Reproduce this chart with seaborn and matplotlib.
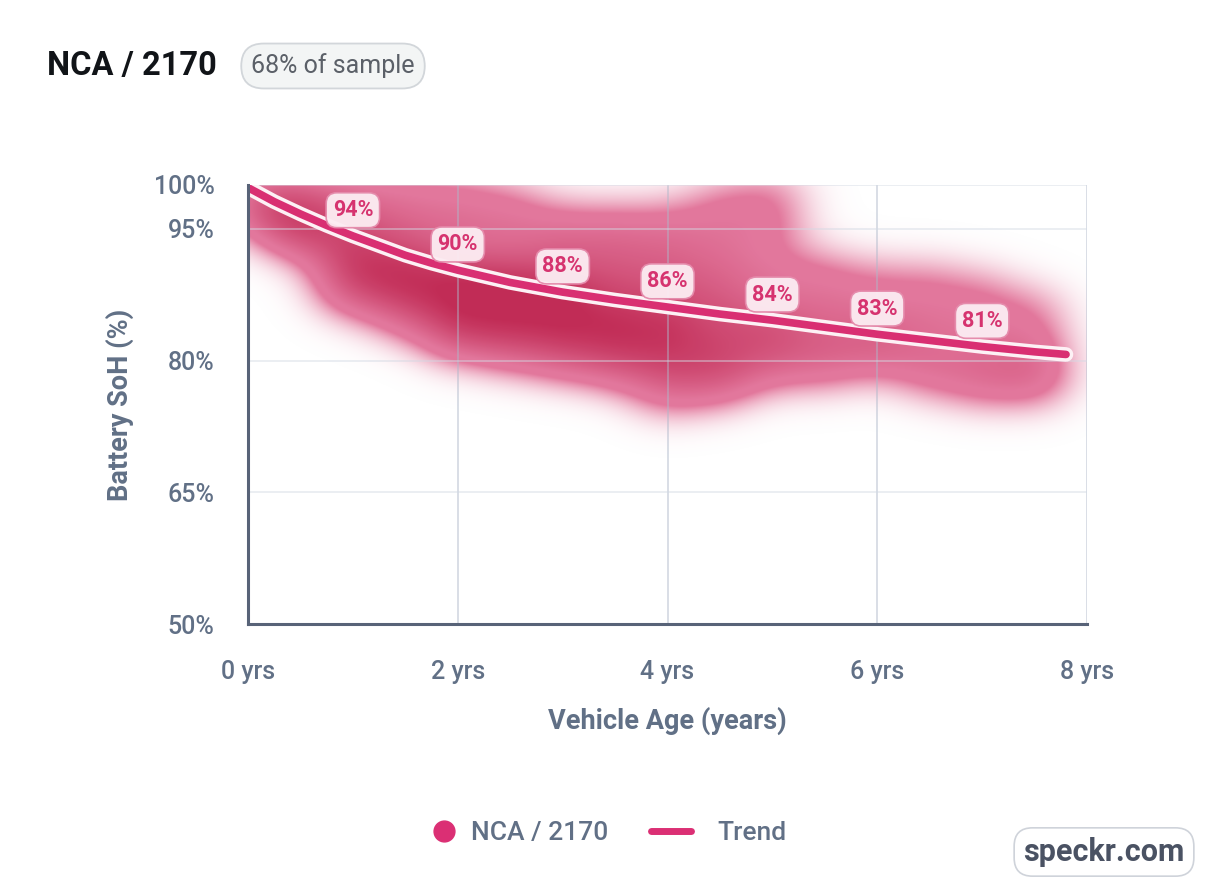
import numpy as np
import pandas as pd
import seaborn as sns
import matplotlib.pyplot as plt
import matplotlib.patheffects as pe
from matplotlib.lines import Line2D

# trend curve (age in years, SoH in %)
trend_age = [0, 0.25, 0.5, 0.75, 1, 1.25, 1.5, 1.75, 2, 2.5, 3, 3.5, 4, 4.5, 5, 5.5, 6, 6.5, 7, 7.5, 7.8]
trend_soh = [99.7, 98.1, 96.7, 95.4, 94.2, 93.1, 92.0, 91.1, 90.3, 88.9, 87.8, 86.9, 86.1,
             85.3, 84.6, 83.8, 83.0, 82.3, 81.6, 81.0, 80.7]

# yearly labels on the trend
label_age = [1, 2, 3, 4, 5, 6, 7]
label_val = [94, 90, 88, 86, 84, 83, 81]

# sample cloud (centres of the blurred density, with relative weight)
cloud_age = [0.1, 0.1,
             0.5, 0.5, 0.5,
             1.0, 1.0, 1.0, 1.0, 1.0,
             1.5, 1.5, 1.5, 1.5, 1.5,
             2.0, 2.0, 2.0, 2.0, 2.0, 2.0,
             2.5, 2.5, 2.5, 2.5, 2.5, 2.5,
             3.0, 3.0, 3.0, 3.0, 3.0, 3.0,
             3.5, 3.5, 3.5, 3.5, 3.5, 3.5,
             4.0, 4.0, 4.0, 4.0, 4.0, 4.0, 4.0,
             4.5, 4.5, 4.5, 4.5, 4.5, 4.5, 4.5,
             5.0, 5.0, 5.0, 5.0, 5.0, 5.0,
             5.5, 5.5, 5.5, 5.5,
             6.0, 6.0, 6.0, 6.0,
             6.5, 6.5, 6.5, 6.5,
             7.0, 7.0, 7.0, 7.0,
             7.5, 7.5, 7.5, 7.5]
cloud_soh = [99, 96.5,
             99, 96, 94,
             99, 95.5, 92, 89, 87,
             99, 95, 91, 88, 85,
             99, 95, 90, 87, 84, 82,
             98.5, 95, 90, 87, 84, 81,
             96, 93, 89, 86, 83, 80,
             96, 93, 89, 85, 82, 79,
             96, 93, 89, 85, 82, 79, 76,
             98, 94, 90, 86, 82, 79, 77,
             99, 95, 90, 85, 82, 79,
             90, 86, 82, 79,
             89, 85, 82, 80,
             89, 85, 81, 78,
             88, 84, 80, 77,
             86, 82, 79, 77]
cloud_w = [0.6, 0.6,
           0.6, 0.8, 0.7,
           0.55, 0.7, 1.0, 0.8, 0.4,
           0.5, 0.6, 1.0, 0.9, 0.6,
           0.45, 0.6, 1.0, 1.0, 0.8, 0.5,
           0.35, 0.55, 0.9, 1.0, 0.9, 0.6,
           0.35, 0.6, 0.9, 1.0, 0.9, 0.6,
           0.35, 0.6, 0.8, 1.0, 0.9, 0.6,
           0.35, 0.55, 0.8, 0.9, 0.9, 0.7, 0.5,
           0.45, 0.5, 0.6, 0.8, 0.8, 0.6, 0.5,
           0.45, 0.5, 0.55, 0.7, 0.7, 0.5,
           0.45, 0.55, 0.6, 0.5,
           0.4, 0.5, 0.5, 0.4,
           0.4, 0.5, 0.5, 0.45,
           0.4, 0.5, 0.5, 0.5,
           0.4, 0.5, 0.5, 0.45]

x_ticks = [0, 2, 4, 6, 8]
x_ticklabels = ["0 yrs", "2 yrs", "4 yrs", "6 yrs", "8 yrs"]
y_ticks = [50, 65, 80, 95, 100]
y_ticklabels = ["50%", "65%", "80%", "95%", "100%"]

PINK = "#d92f72"
AXIS_TXT = "#617086"

sns.set_theme(style="white")
plt.rcParams['font.family'] = ['Roboto', 'DejaVu Sans']

fig = plt.figure(figsize=(12.24, 8.96), dpi=100)
ax = fig.add_axes([248 / 1224, 1 - 624 / 896, (1087 - 248) / 1224, (624 - 185) / 896])

# blurred density cloud
gx = np.linspace(0, 8, 480)
gy = np.linspace(50, 100, 600)
GX, GY = np.meshgrid(gx, gy)
dens = np.zeros_like(GX)
for a, s, w in zip(cloud_age, cloud_soh, cloud_w):
    dens += w * np.exp(-0.5 * (((GX - a) / 0.3) ** 2 + ((GY - s) / 2.6) ** 2))

light = np.array([0.88, 0.42, 0.58])
dark = np.array([0.74, 0.10, 0.28])
t = np.clip((dens - 1.1) / 1.7, 0, 1)[..., None]
rgb = light * (1 - t) + dark * t
alpha = np.clip(dens / 0.85, 0, 1) ** 1.3 * 0.92
rgba = np.dstack([rgb, alpha])
ax.imshow(rgba, extent=(0, 8, 50, 100), origin="lower", aspect="auto",
          interpolation="bilinear", zorder=1)

# trend line
trend_df = pd.DataFrame({"age": trend_age, "soh": trend_soh})
sns.lineplot(data=trend_df, x="age", y="soh", ax=ax, color=PINK, linewidth=5.5,
             solid_capstyle="round", solid_joinstyle="round", zorder=4,
             path_effects=[pe.Stroke(linewidth=10.5, foreground="#fdf1f5"), pe.Normal()])

for a, v in zip(label_age, label_val):
    y = np.interp(a, trend_age, trend_soh)
    ax.annotate(f"{v}%", (a, y), xytext=(0, 18.5), textcoords="offset points",
                ha="center", va="center", fontsize=15.5, fontweight="bold", color="#d6336f",
                bbox=dict(boxstyle="round,pad=0.3,rounding_size=0.5", fc="#fcecf2",
                          ec="#e58aab", lw=1.2, alpha=0.96),
                zorder=6)

ax.set_xlim(0, 8)
ax.set_ylim(50, 100)
ax.set_xticks(x_ticks)
ax.set_xticklabels(x_ticklabels)
ax.set_yticks(y_ticks)
ax.set_yticklabels(y_ticklabels)
ax.tick_params(axis="both", length=0, labelsize=18, labelcolor=AXIS_TXT)
ax.tick_params(axis="x", pad=26)
ax.tick_params(axis="y", pad=24)
for lab in ax.get_xticklabels() + ax.get_yticklabels():
    lab.set_fontweight("medium")

ax.grid(False)
for xv in x_ticks[1:]:
    ax.axvline(xv, color="#aeb8ca", alpha=0.5, lw=1.3, zorder=2)
for yv in y_ticks[1:]:
    ax.axhline(yv, color="#d3dae4", alpha=0.5, lw=1.3, zorder=2)

for side in ["top", "right"]:
    ax.spines[side].set_visible(False)
for side in ["left", "bottom"]:
    ax.spines[side].set_color("#586378")
    ax.spines[side].set_linewidth(2.2)
    ax.spines[side].set_zorder(7)

ax.set_xlabel("Vehicle Age (years)", fontsize=19.5, fontweight="bold", color=AXIS_TXT, labelpad=16)
ax.set_ylabel("Battery SoH (%)", fontsize=19.5, fontweight="bold", color=AXIS_TXT, labelpad=14)

# header
fig.text(47 / 1224, 1 - 66 / 896, "NCA / 2170", fontsize=23.5, fontweight="bold",
         color="#111418", ha="left", va="center")
fig.text(333 / 1224, 1 - 66 / 896, "68% of sample", fontsize=18, color="#5b6068",
         ha="center", va="center",
         bbox=dict(boxstyle="round,pad=0.4,rounding_size=0.9", fc="#f3f5f5", ec="#d2d6da", lw=1.3))

# legend, one entry at a time so the spacing matches
leg1 = fig.legend([Line2D([], [], marker="o", ls="", color="#db2f74", markersize=15)],
                  ["NCA / 2170"], loc="center left", frameon=False, borderpad=0,
                  bbox_to_anchor=(420 / 1224, 1 - 833 / 896), fontsize=19, labelcolor=AXIS_TXT,
                  handlelength=0.8, handletextpad=0.64)
leg2 = fig.legend([Line2D([], [], color="#db2f74", lw=5)],
                  ["Trend"], loc="center left", frameon=False, borderpad=0,
                  bbox_to_anchor=(638 / 1224, 1 - 833 / 896), fontsize=19, labelcolor=AXIS_TXT,
                  handlelength=1.52, handletextpad=1.0)
for leg in (leg1, leg2):
    for txt in leg.get_texts():
        txt.set_fontweight("medium")

fig.text(1104 / 1224, 1 - 852 / 896, "speckr.com", fontsize=22, fontweight="bold",
         color="#4a5263", ha="center", va="center",
         bbox=dict(boxstyle="round,pad=0.3,rounding_size=0.6", fc="white", ec="#cfd3da", lw=1.2))

fig.savefig("out.png", dpi=100, facecolor="white")
